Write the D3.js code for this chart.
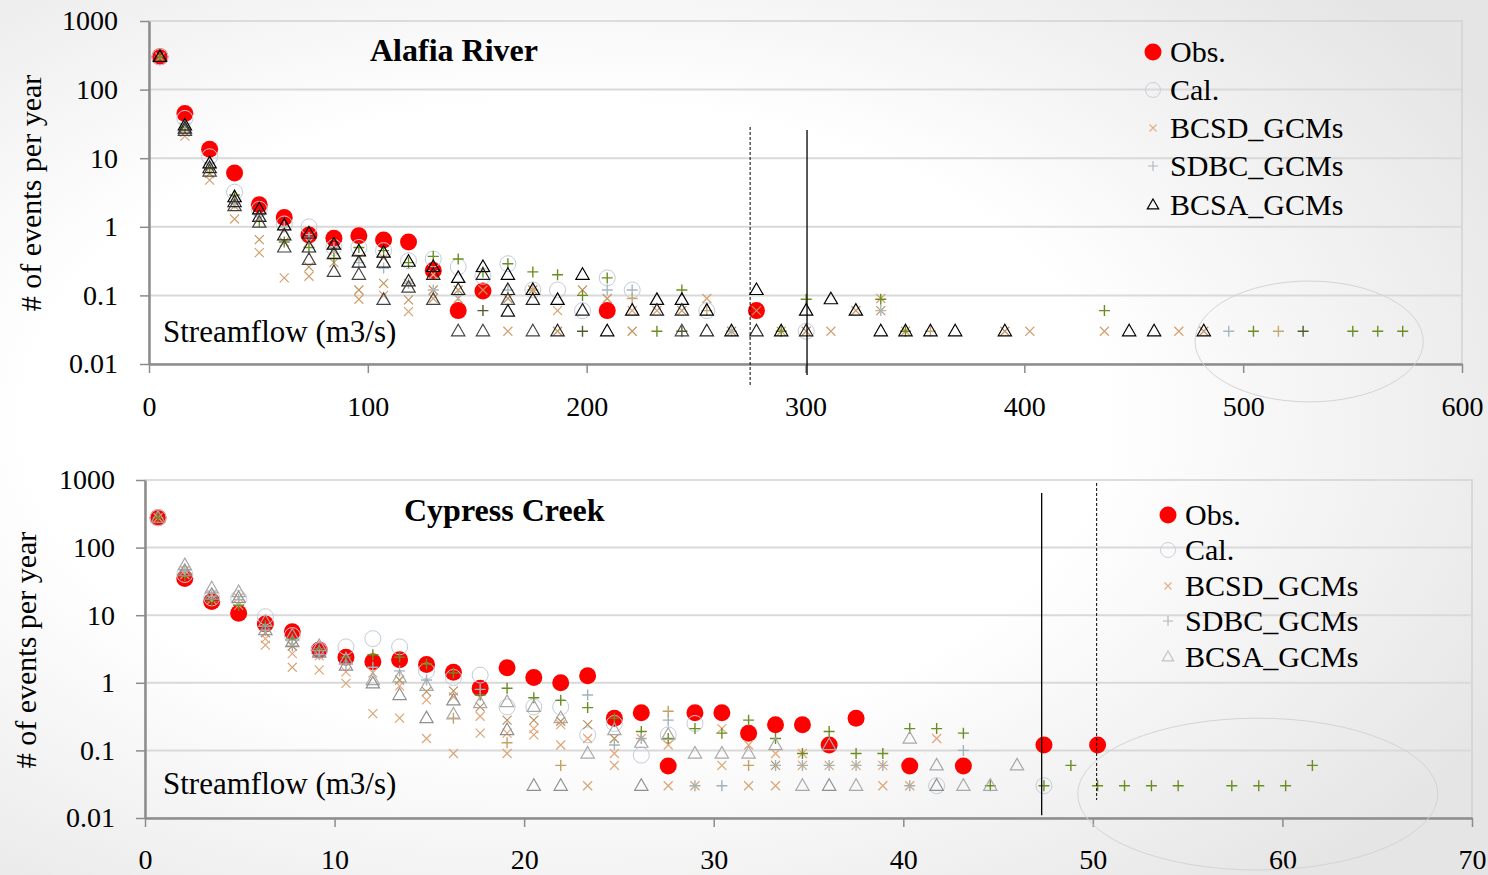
<!DOCTYPE html>
<html>
<head>
<meta charset="utf-8">
<script src="https://cdn.jsdelivr.net/npm/d3@7"></script>
<style>
  body { margin: 0; background: #fff; }
  svg text { font-family: "Liberation Serif", "Times New Roman", serif; fill: #000; }
</style>
</head>
<body>
<svg id="chart" width="1488" height="875"></svg>
<script>
// ---- shared axis labels ----
const yTickValues = [1000, 100, 10, 1, 0.1, 0.01];
const yTickLabels = ['1000', '100', '10', '1', '0.1', '0.01'];
const legendNames = ['Obs.', 'Cal.', 'BCSD_GCMs', 'SDBC_GCMs', 'BCSA_GCMs'];

// ---- Alafia River ----
const alafiaXTicks = [0, 100, 200, 300, 400, 500, 600];
const alafiaX = [5.0, 16.4, 27.7, 39.1, 50.4, 61.8, 73.1, 84.5, 95.9, 107.2, 118.6, 129.9, 141.3, 152.6,
  164.0, 175.4, 186.7, 198.1, 209.4, 220.8, 232.1, 243.5, 254.9, 266.2, 277.6, 288.9, 300.3, 311.6,
  323.0, 334.4, 345.7, 357.1, 368.4, 379.8, 391.1, 402.5, 413.9, 425.2, 436.6, 447.9, 459.3, 470.6,
  482.0, 493.4, 504.7, 516.1, 527.4, 538.8, 550.1, 561.5, 572.9];
const alafiaObs = [300, 45, 13.5, 6.1, 2.1, 1.37, 0.76, 0.68, 0.74, 0.64, 0.6, 0.23, 0.06, 0.116,
  null, null, null, null, 0.06, null, null, null, null, null, 0.06, null, null, null, null, null,
  null, null, null, null, null, null, null, null, null, null, null, null, null, null, null, null,
  null, null, null, null, null];
const alafiaCal = [300, 38, 10.5, 3.2, 1.8, 1.1, 1.0, 0.5, 0.5, 0.45, 0.32, 0.34, 0.26, 0.19, 0.29,
  0.12, 0.12, 0.06, 0.18, 0.12, null, null, 0.06, null, null, null, 0.03, null, null, null,
  null, null, null, null, null, null, null, null, null, null, null, null, null, null, null, null,
  null, null, null, null, null];
const alafiaBCSD = [[290, 300], [21, 24, 27], [4.8, 6, 7.5], [1.3, 2.0, 2.6], [0.42, 0.65, 1.3],
  [0.18, 0.6, 0.9], [0.19, 0.26, 0.6], [0.3, 0.45], [0.088, 0.12, 0.35], [0.1, 0.15, 0.35],
  [0.058, 0.086, 0.15], [0.09, 0.12, 0.2], [0.09, 0.12], [null, 0.12], [0.03, 0.09], [null, 0.12],
  [0.06, 0.03], [null, 0.12], [null, 0.09], [0.06, 0.03], [0.06], [null, 0.06], [0.09], [null, 0.03],
  [null, 0.06], [0.03], [null, 0.03], [0.03], [null, 0.06], [0.09, 0.06], [0.03], [], [], [],
  [null, 0.03], [0.03], [], [], [0.03], [], [], [0.03], [null, 0.03], [], [], [], [], [], [], [], []];
const alafiaSDBC = [[300], [28, 32], [7, 8.5], [2.9, 2.2], [1.2, 1.5], [0.6, 1.0], [0.5, 0.7],
  [0.35, 0.5], [0.5, 0.3], [0.45, 0.25], [0.3, 0.15], [0.37, 0.12], [0.34, 0.1], [0.22, null, null, 0.06],
  [0.29, 0.12], [0.22, null, 0.12], [0.2], [0.1, null, null, 0.03], [0.18, 0.12], [null, 0.12, 0.09],
  [0.03], [0.12, null, null, 0.03], [null, null, 0.06], [null, 0.03], [], [0.03], [0.088], [], [],
  [0.088, 0.06], [0.03], [null, null, 0.03], [], [], [], [], [], [], [0.06], [], [], [], [],
  [null, 0.03], [0.03], [null, null, 0.03], [null, null, null, 0.03], [], [0.03], [0.03], [0.03]];
const alafiaBCSA = [[300], [30, 27, 25], [8.4, 7.2, 6.4], [2.7, 2.3, 2.0], [1.8, 1.4, 1.15],
  [1.05, 0.75, 0.5], [0.8, 0.5, 0.33], [0.55, 0.4, 0.22], [0.44, 0.3, 0.2], [0.42, 0.3, 0.086],
  [0.31, 0.16, 0.13], [0.26, 0.2, 0.086], [0.18, 0.12, 0.03], [0.26, 0.2, 0.03], [0.2, 0.12, 0.086, 0.058],
  [0.12, 0.086, 0.03], [0.086, 0.03], [0.2, 0.06], [0.03], [0.06], [0.086, 0.06], [0.086, 0.06, 0.03],
  [0.06, 0.03], [0.03], [0.12, 0.03], [0.03], [0.06, 0.03], [0.088], [0.06], [0.03], [0.03], [0.03],
  [0.03], [], [0.03], [], [], [], [], [0.03], [0.03], [], [0.03], [], [], [], [], [], [], [], []];
// [x, y-top, y-bottom, dashed]
const alafiaMarkers = [[274.7, 28.5, 0.0049, true], [300.7, 25.8, 0.0069, false]];
// [x-left, x-right, y-top, y-bottom]
const alafiaRing = [478, 582.3, 0.162, 0.0028];

// ---- Cypress Creek ----
const cypressXTicks = [0, 10, 20, 30, 40, 50, 60, 70];
const cypressX = [0.69, 2.1, 3.52, 4.94, 6.35, 7.77, 9.19, 10.6, 12.02, 13.43, 14.85, 16.27, 17.68,
  19.1, 20.51, 21.93, 23.35, 24.76, 26.18, 27.6, 29.01, 30.43, 31.84, 33.26, 34.68, 36.09, 37.51,
  38.92, 40.34, 41.76, 43.17, 44.59, 46.0, 47.42, 48.84, 50.25, 51.67, 53.09, 54.5, 55.92, 57.33,
  58.75, 60.17, 61.58];
const cypressObs = [277, 35, 15.9, 10.7, 7.4, 5.7, 3.05, 2.38, 2.05, 2.2, 1.86, 1.43, 0.83, 1.67,
  1.2, 1.0, 1.27, 0.3, 0.36, 0.059, 0.36, 0.36, 0.18, 0.24, 0.24, 0.12, 0.3, null, 0.059, null,
  0.059, null, null, 0.12, null, 0.12, null, null, null, null, null, null, null, null];
const cypressCal = [277, 40, 18, 17.8, 9.5, 5, 3.0, 3.4, 4.5, 3.4, 1.5, 1.2, 1.3, 0.44, 0.44, 0.44,
  0.17, 0.25, 0.085, 0.17, 0.25, null, null, null, null, null, null, null, null, 0.03, null, null,
  null, 0.03, null, null, null, null, null, null, null, null, null, null];
const cypressBCSD = [[277], [40, 46], [17, 20], [14, 18], [3.6, 4.5, 5.5], [1.7, 2.7, 3.5], [1.55, 2.5],
  [0.98, 1.45], [0.35, 1.4], [0.3, 0.9, 1.1], [0.15, 0.56, 0.74], [0.09, 0.62, 0.76], [0.18, 0.32, 0.44],
  [0.09, 0.18, 0.28], [0.17, 0.21, 0.28], [0.12, 0.24, 0.27], [0.03, 0.15, 0.24], [0.06, 0.09, 0.15],
  [null, 0.15], [0.03, 0.12], [0.03], [0.06, 0.21], [0.03, 0.12], [0.03, 0.09, 0.06], [0.06, 0.09],
  [0.06], [0.06], [0.03, 0.06], [0.03], [null, 0.15], [], [], [], [], [], [], [], [], [], [], [], [], [], []];
const cypressSDBC = [[277], [38, 45], [16, 19], [14, 17], [7, 6], [4.5, 3.5], [3.2, 2.6], [2.4, 1.9],
  [2.6, 1.7], [2.4, 1.5], [1.9, 1.1], [1.4, null, 0.3], [0.66, 0.8], [0.83, null, 0.13], [0.6],
  [0.55, null, 0.06], [0.43, 0.66], [0.3, 0.12], [0.19, 0.15], [0.15, 0.28, 0.38], [0.21, 0.03],
  [0.18, 0.03], [0.28, null, 0.06], [0.15, 0.06], [0.09, 0.06], [0.19, 0.06], [0.09, 0.06],
  [0.09, 0.06], [0.21, 0.03], [0.21], [0.18, 0.1], [0.03], [], [0.03], [0.06], [0.03], [0.03],
  [0.03], [0.03], [], [0.03], [0.03], [0.03], [0.06]];
const cypressBCSA = [[277], [55, 45], [25, 20], [22, 18], [8, 6], [5, 4], [3.5, 2.8], [2.2, 1.8],
  [1.1, 0.98], [1.2, 0.66], [0.9, 0.3], [0.34, 0.55], [0.5], [0.52, 0.2], [0.44, 0.03], [0.3, 0.03],
  [0.09], [0.2], [0.13, 0.03], [0.17], [0.09], [0.09], [0.09], [0.12], [0.03], [0.12, 0.03], [0.03],
  [], [0.15], [0.06, 0.03], [0.03], [0.03], [0.06], [], [], [], [], [], [], [], [], [], [], []];
const cypressMarkers = [[47.3, 642, 0.011, false], [50.2, 903, 0.0185, true]];
const cypressRing = [49.2, 68.2, 0.30, 0.0017];

// ---- drawing ----
const svg = d3.select('#chart');
const defs = svg.append('defs');
const bg = defs.append('radialGradient').attr('id', 'bg')
  .attr('cx', '38%').attr('cy', '48%').attr('r', '72%');
bg.append('stop').attr('offset', '50%').attr('stop-color', '#ffffff');
bg.append('stop').attr('offset', '100%').attr('stop-color', '#e5e5e5');
svg.append('rect').attr('width', 1488).attr('height', 875).attr('fill', 'url(#bg)');

const shapes = {
  x: s => `M${-s},${-s}L${s},${s}M${-s},${s}L${s},${-s}`,
  plus: s => `M${-s},0H${s}M0,${-s}V${s}`,
  tri: s => `M0,${-s}L${s * 0.95},${s * 0.65}L${-s * 0.95},${s * 0.65}Z`
};

function single(xs, vals) {
  return xs.map((x, i) => ({ x, v: vals[i] })).filter(d => d.v != null);
}
function multi(xs, lists) {
  const pts = [];
  lists.forEach((vals, i) => vals.forEach((v, k) => { if (v != null) pts.push({ x: xs[i], v, k }); }));
  return pts;
}

function drawPanel(p) {
  const g = svg.append('g');

  const x = d3.scaleLinear().domain([0, p.xTicks[p.xTicks.length - 1]]).range([p.left, p.right]);
  const y = d3.scaleLog().domain([0.01, 1000]).range([p.bottom, p.top]);

  g.append('rect').attr('x', p.left).attr('y', p.top)
    .attr('width', p.right - p.left).attr('height', p.bottom - p.top)
    .attr('fill', 'none').attr('stroke', '#d2d2d2').attr('stroke-width', 1.5);

  g.append('g').selectAll('line').data(yTickValues.slice(1, -1)).join('line')
    .attr('x1', p.left).attr('x2', p.right)
    .attr('y1', d => y(d)).attr('y2', d => y(d))
    .attr('stroke', '#d9d9d9').attr('stroke-width', 2);

  const yAxis = g.append('g').attr('transform', `translate(${p.left},0)`)
    .call(d3.axisLeft(y).tickValues(yTickValues).tickFormat((d, i) => yTickLabels[i])
      .tickSize(9).tickSizeOuter(0).tickPadding(p.yPad));
  const xAxis = g.append('g').attr('transform', `translate(0,${p.bottom})`)
    .call(d3.axisBottom(x).tickValues(p.xTicks).tickFormat(d3.format('d'))
      .tickSize(9).tickSizeOuter(0).tickPadding(p.xPad));
  [yAxis, xAxis].forEach(a => {
    a.select('.domain').attr('stroke', '#8c8c8c').attr('stroke-width', 2.5);
    a.selectAll('.tick line').attr('stroke', '#8c8c8c').attr('stroke-width', 1.5);
    a.selectAll('.tick text').attr('font-size', 28)
      .attr('font-family', '"Liberation Serif", serif').attr('fill', '#000');
  });

  // series
  g.append('g').selectAll('circle').data(single(p.xs, p.obs)).join('circle')
    .attr('cx', d => x(d.x)).attr('cy', d => y(d.v)).attr('r', 8.5).attr('fill', '#ff0000');
  g.append('g').selectAll('circle').data(single(p.xs, p.cal)).join('circle')
    .attr('cx', d => x(d.x)).attr('cy', d => y(d.v)).attr('r', 8)
    .attr('fill', 'none').attr('stroke', '#c3ccd8').attr('stroke-width', 1);
  g.append('g').selectAll('path').data(multi(p.xs, p.bcsd)).join('path')
    .attr('transform', d => `translate(${x(d.x)},${y(d.v)})`).attr('d', shapes.x(4.5))
    .attr('fill', 'none').attr('stroke', d => p.bcsdColors[d.k]).attr('stroke-width', 1.2);
  g.append('g').selectAll('path').data(multi(p.xs, p.sdbc)).join('path')
    .attr('transform', d => `translate(${x(d.x)},${y(d.v)})`).attr('d', shapes.plus(5.5))
    .attr('fill', 'none').attr('stroke', d => p.sdbcColors[d.k]).attr('stroke-width', 1.4);
  g.append('g').selectAll('path').data(multi(p.xs, p.bcsa)).join('path')
    .attr('transform', d => `translate(${x(d.x)},${y(d.v)})`).attr('d', shapes.tri(7))
    .attr('fill', 'none').attr('stroke', d => p.bcsaColors[d.k]).attr('stroke-width', 1.2);

  // threshold lines
  g.append('g').selectAll('line').data(p.markers).join('line')
    .attr('x1', d => x(d[0])).attr('x2', d => x(d[0]))
    .attr('y1', d => y(d[1])).attr('y2', d => y(d[2]))
    .attr('stroke', '#000').attr('stroke-width', d => d[3] ? 1 : 1.3)
    .attr('stroke-dasharray', d => d[3] ? '3,2' : null);

  const r = p.ring;
  g.append('ellipse')
    .attr('cx', (x(r[0]) + x(r[1])) / 2).attr('cy', (y(r[2]) + y(r[3])) / 2)
    .attr('rx', (x(r[1]) - x(r[0])) / 2).attr('ry', (y(r[3]) - y(r[2])) / 2)
    .attr('fill', 'none').attr('stroke', '#d4d4d4').attr('stroke-width', 1);

  // texts
  g.append('text').attr('x', p.titleX).attr('y', p.titleY)
    .attr('font-size', 32).attr('font-weight', 'bold').text(p.title);
  g.append('text').attr('x', 163).attr('y', p.flowY).attr('font-size', 31).text('Streamflow (m3/s)');
  g.append('text').attr('transform', `translate(${p.yTitleX},${p.yTitleY}) rotate(-90)`)
    .attr('text-anchor', 'middle').attr('dy', '0.35em').attr('font-size', 30)
    .text('# of events per year');

  // legend
  const leg = g.append('g');
  legendNames.forEach((name, i) => {
    const cy = p.legY[i];
    const mx = p.legX;
    if (i === 0) leg.append('circle').attr('cx', mx).attr('cy', cy).attr('r', 8.5).attr('fill', '#ff0000');
    if (i === 1) leg.append('circle').attr('cx', mx).attr('cy', cy).attr('r', 7.5)
      .attr('fill', 'none').attr('stroke', '#c8d0dc');
    if (i === 2) leg.append('path').attr('transform', `translate(${mx},${cy})`).attr('d', shapes.x(3.5))
      .attr('fill', 'none').attr('stroke', '#e2ad86').attr('stroke-width', 1.1);
    if (i === 3) leg.append('path').attr('transform', `translate(${mx},${cy})`).attr('d', shapes.plus(5))
      .attr('fill', 'none').attr('stroke', '#a9b7c0').attr('stroke-width', 1.1);
    if (i === 4) leg.append('path').attr('transform', `translate(${mx},${cy})`).attr('d', shapes.tri(6))
      .attr('fill', 'none').attr('stroke', p.legTri).attr('stroke-width', 1.2);
    leg.append('text').attr('x', mx + 17).attr('y', cy + 10).attr('font-size', 30).text(name);
  });
}

drawPanel({
  left: 149, right: 1462, top: 21, bottom: 364, yPad: 22, xPad: 23,
  xTicks: alafiaXTicks, xs: alafiaX, obs: alafiaObs, cal: alafiaCal,
  bcsd: alafiaBCSD, sdbc: alafiaSDBC, bcsa: alafiaBCSA,
  bcsdColors: ['#d6a070', '#c4935e', '#e4b28e'],
  sdbcColors: ['#6b8e23', '#a8b7c0', '#c6a676', '#4e5e2a'],
  bcsaColors: ['#000', '#222', '#444', '#111'],
  markers: alafiaMarkers, ring: alafiaRing,
  title: 'Alafia River', titleX: 370, titleY: 61, flowY: 342,
  yTitleX: 30, yTitleY: 193, legX: 1153, legY: [52, 90, 128, 166, 205], legTri: '#000'
});

drawPanel({
  left: 145, right: 1472, top: 480, bottom: 818, yPad: 21, xPad: 22,
  xTicks: cypressXTicks, xs: cypressX, obs: cypressObs, cal: cypressCal,
  bcsd: cypressBCSD, sdbc: cypressSDBC, bcsa: cypressBCSA,
  bcsdColors: ['#d9a676', '#e8a47a', '#b8925e'],
  sdbcColors: ['#6b8e23', '#a1b2ba', '#c8a060', '#7d9040'],
  bcsaColors: ['#a8a8a8', '#8f8f8f', '#bdbdbd', '#9a9a9a'],
  markers: cypressMarkers, ring: cypressRing,
  title: 'Cypress Creek', titleX: 404, titleY: 521, flowY: 794,
  yTitleX: 25, yTitleY: 650, legX: 1168, legY: [515, 550, 586, 621, 657], legTri: '#c4c4c4'
});
</script>
</body>
</html>
